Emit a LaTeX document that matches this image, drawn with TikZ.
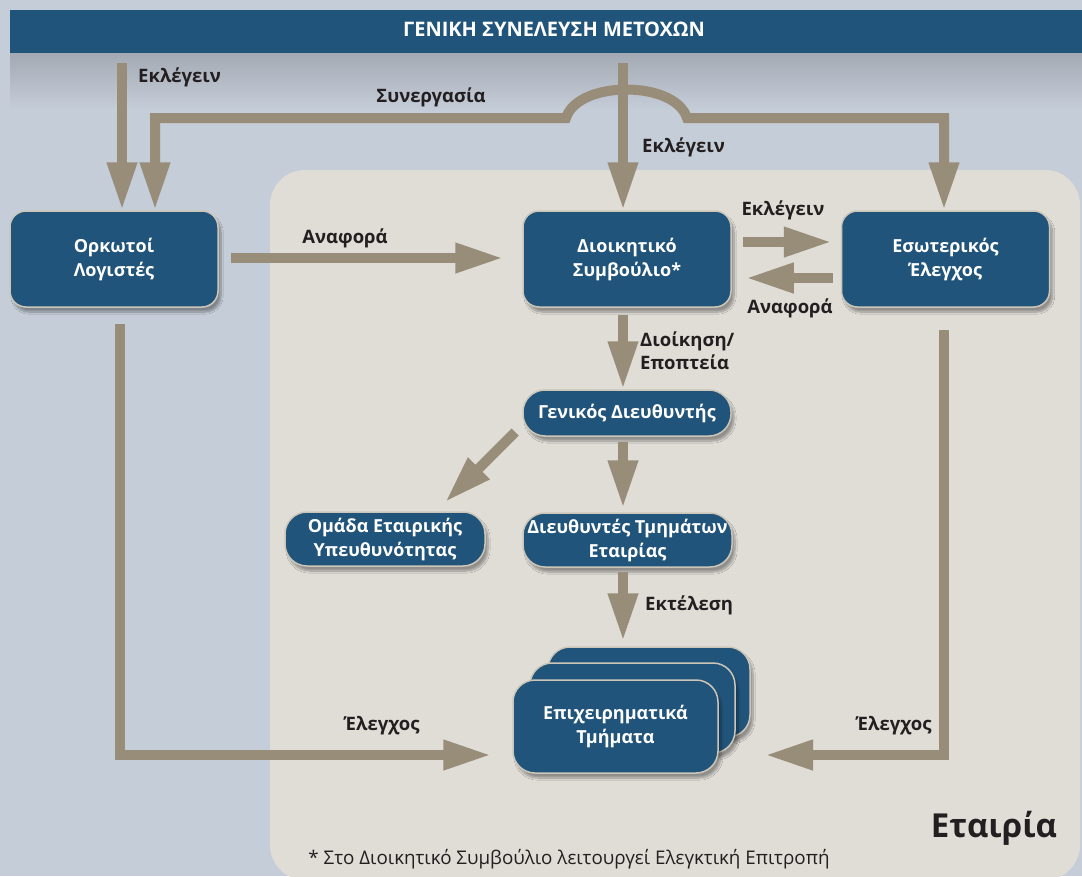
\documentclass[tikz,border=0pt]{standalone}
\usepackage{fontspec}
\setmainfont{Open Sans}
\usetikzlibrary{arrows.meta,calc,shadows.blur}
\definecolor{bg}{HTML}{C5CDD8}
\definecolor{company}{HTML}{E0DDD7}
\definecolor{boxblue}{HTML}{21547A}
\definecolor{arrowc}{HTML}{978D79}
\definecolor{nodeborder}{HTML}{CCC6B9}
\definecolor{textdark}{HTML}{231F20}
\definecolor{shadowtop}{HTML}{A4AAB4}
\tikzset{
  box/.style={draw=nodeborder, line width=1.5pt, fill=boxblue, text=white,
    font=\bfseries\fontsize{18}{24}\selectfont, align=center, rounded corners=16pt,
    minimum width=208pt, minimum height=96pt, inner sep=0pt,
    blur shadow={shadow xshift=3pt, shadow yshift=-5pt, shadow opacity=35, shadow blur steps=10}},
  pill/.style={box, minimum height=46pt, rounded corners=22pt},
  lbl/.style={text=textdark, font=\bfseries\fontsize{18.5}{23}\selectfont, inner sep=0pt, align=left},
  tip/.style={-{Triangle[length=48pt,width=28pt]}},
  arr/.style={draw=arrowc, line width=10pt, tip},
}
\begin{document}
\begin{tikzpicture}[x=1pt,y=-1pt]
\useasboundingbox (0,0) rectangle (1082,876);
\fill[bg] (0,0) rectangle (1082,876);
% shadow under banner
\shade[top color=shadowtop, bottom color=bg] (10,53) rectangle (1082,110);
% company area
\fill[company, rounded corners=35pt] (270,170) rectangle (1080,880);
% banner
\node[fill=boxblue, minimum width=1072pt, minimum height=43pt, inner sep=0pt, anchor=north west] (GS) at (10,10) {};
\node[text=white, font=\bfseries\fontsize{20}{24}\selectfont, inner sep=0pt] (GSt) at (554,29) {ΓΕΝΙΚΗ ΣΥΝΕΛΕΥΣΗ ΜΕΤΟΧΩΝ};

% main boxes
\node[box] (OL) at (114,259) {Ορκωτοί\\Λογιστές};
\node[box] (DS) at (627,259) {Διοικητικό\\Συμβούλιο*};
\node[box] (EE) at (945.5,259) {Εσωτερικός\\Έλεγχος};
\node[pill] (GD) at (627,413) {Γενικός Διευθυντής};
\node[pill, minimum width=209pt, minimum height=54pt] (DT) at (627.5,540) {Διευθυντές Τμημάτων\\Εταιρίας};
\node[pill, minimum width=200pt, minimum height=54pt] (OE) at (385,539) {Ομάδα Εταιρικής\\Υπευθυνότητας};
% stacked business units
\node[box, minimum width=202pt, minimum height=90pt, rounded corners=22pt] (BU3) at (649,692) {};
\node[box, minimum width=205pt, minimum height=90pt, rounded corners=22pt] (BU2) at (632.5,708) {};
\node[box, minimum width=205pt, minimum height=93pt, rounded corners=22pt] (BU) at (615.5,726.5) {Επιχειρηματικά\\Τμήματα};

% top arrows
\coordinate (e1) at (122,63);
\draw[arr] (e1) -- (e1 |- OL.north);
\coordinate (s0) at (155,118);
\coordinate (s1) at (566,118);
\coordinate (s2) at (687,118);
\coordinate (s3) at (944,118);
\draw[draw=arrowc, line width=10pt, {Triangle[length=48pt,width=28pt]}-{Triangle[length=48pt,width=28pt]}]
  (OL.north -| s0) -- (s0) -- (s1) .. controls (578,80) and (675,80) .. (s2) -- (s3) -- (EE.north -| s3);
\coordinate (c0) at (623,63);
\draw[arr] (c0) -- (c0 |- DS.north);

\node[lbl, anchor=west] (l1) at (138,77) {Εκλέγειν};
\node[lbl] (l2) at (431,97) {Συνεργασία};
\node[lbl, anchor=west] (l3) at (642,147) {Εκλέγειν};

% middle row
\draw[arr] ($(OL.east)+(12,-1)$) -- ($(DS.west)+(-19,-1)$);
\node[lbl] (l4) at (345,238) {Αναφορά};
\draw[arr] ($(DS.east)+(11,-17)$) -- ($(EE.west)+(-9,-17)$);
\node[lbl] (l5) at (783,210) {Εκλέγειν};
\draw[arr] ($(EE.west)+(-8,19)$) -- ($(DS.east)+(14,19)$);
\node[lbl] (l6) at (790,308) {Αναφορά};

% vertical chain
\coordinate (v1) at (623,315);
\draw[arr] (v1) -- (v1 |- GD.north);
\node[lbl, anchor=west] (l7) at (640,351) {Διοίκηση/\\Εποπτεία};
\coordinate (v2) at (623,442);
\draw[arr] (v2) -- ($(v2 |- DT.north)+(0,-4)$);
\draw[arr] ($(GD.west)+(-7,19)$) -- ($(OE.north)+(60,-9)$);
\coordinate (v3) at (623,572);
\draw[arr] (v3) -- ($(v3 |- BU3.north)+(0,-5)$);
\node[lbl, anchor=west] (l8) at (645,605) {Εκτέλεση};

% control arrows
\coordinate (b1) at (120,755);
\draw[arr] ($(OL.south -| b1)+(0,16)$) -- (b1) -- ($(BU.west |- b1)+(-21,0)$);
\node[lbl] (l9) at (382,726) {Έλεγχος};
\coordinate (b2) at (944,755);
\draw[arr] ($(EE.south -| b2)+(0,22)$) -- (b2) -- (765,755);
\node[lbl] (l10) at (894,726) {Έλεγχος};

% texts
\node[text=textdark, font=\bfseries\fontsize{33}{38}\selectfont, inner sep=0pt] (co) at (994,828) {Εταιρία};
\node[text=textdark, font=\fontsize{18.8}{22}\selectfont, inner sep=0pt] (fn) at (569,859) {* Στο Διοικητικό Συμβούλιο λειτουργεί Ελεγκτική Επιτροπή};
\end{tikzpicture}
\end{document}
